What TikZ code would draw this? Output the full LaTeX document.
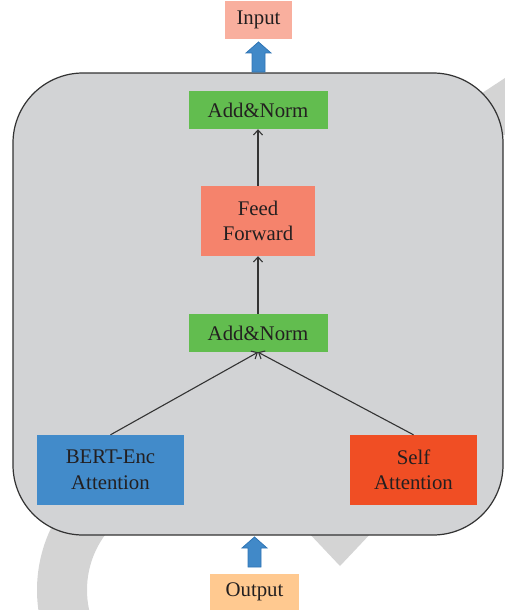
\documentclass[tikz,border=0pt]{standalone}
\usepackage{fontspec}
\setmainfont{Liberation Serif}
\usetikzlibrary{arrows.meta}
\definecolor{inputc}{HTML}{F9AF9E}
\definecolor{outputc}{HTML}{FFC990}
\definecolor{greenc}{HTML}{62BD4F}
\definecolor{ffc}{HTML}{F5836C}
\definecolor{bluec}{HTML}{428BCA}
\definecolor{selfc}{HTML}{F04E24}
\definecolor{boxc}{HTML}{D2D3D5}
\definecolor{ringc}{HTML}{D4D4D4}
\definecolor{linec}{HTML}{333333}
\definecolor{textc}{HTML}{231F20}
\definecolor{arrowfill}{HTML}{4189C8}
\definecolor{arrowline}{HTML}{2F75B5}
\tikzset{
  blk/.style={inner sep=0pt, align=center, text=textc,
    font=\fontsize{20.8}{25.5}\selectfont},
  conn/.style={draw=linec, line width=1.1pt, -{Straight Barb[length=5pt,width=9pt]}},
  bigarrow/.style={fill=arrowfill, draw=arrowline, line width=0.8pt}
}
\begin{document}
\begin{tikzpicture}[x=1pt,y=-1pt]
\useasboundingbox (0,0) rectangle (505,610);
% background gray ring (circular arrow)
\begin{scope}
  \clip (0,0) rectangle (250,610);
  \fill[ringc, even odd rule] (180,590) circle[radius=143] (180,590) circle[radius=93];
\end{scope}
\fill[ringc] (306,530) -- (374,530) -- (340,566) -- cycle;
\fill[ringc] (470,101) -- (505,78) -- (505,135) -- (480,135) -- cycle;
% main rounded box
\draw[fill=boxc, draw=linec, line width=1.2pt, rounded corners=70pt] (13,73) rectangle (503,535);
% nodes
\node[blk, fill=inputc, minimum width=67pt, minimum height=38pt] (input) at (258.5,20) {Input};
\node[blk, fill=outputc, minimum width=89pt, minimum height=36pt] (output) at (254.5,592) {Output};
\node[blk, fill=greenc, minimum width=139pt, minimum height=38pt] (an1) at (258,110) {Add\&Norm};
\node[blk, fill=ffc, minimum width=114pt, minimum height=70pt] (ff) at (258,221) {Feed\\Forward};
\node[blk, fill=greenc, minimum width=139pt, minimum height=38pt] (an2) at (258,333) {Add\&Norm};
\node[blk, fill=bluec, minimum width=147pt, minimum height=70pt] (bert) at (110.5,470) {BERT-Enc\\Attention};
\node[blk, fill=selfc, minimum width=127pt, minimum height=70pt] (self) at (413.5,470) {Self\\Attention};
% connectors
\draw[conn] (ff.north) -- (an1.south);
\draw[conn] (an2.north) -- (ff.south);
\draw[conn] (bert.north) -- (an2.south);
\draw[conn] (self.north) -- (an2.south);
% block arrows
\draw[bigarrow] (258.5,42) -- (271,53) -- (265,53) -- (265,72) -- (252,72) -- (252,53) -- (246,53) -- cycle;
\draw[bigarrow] (254.5,537) -- (267,548) -- (261,548) -- (261,567) -- (248,567) -- (248,548) -- (242,548) -- cycle;
\end{tikzpicture}
\end{document}
